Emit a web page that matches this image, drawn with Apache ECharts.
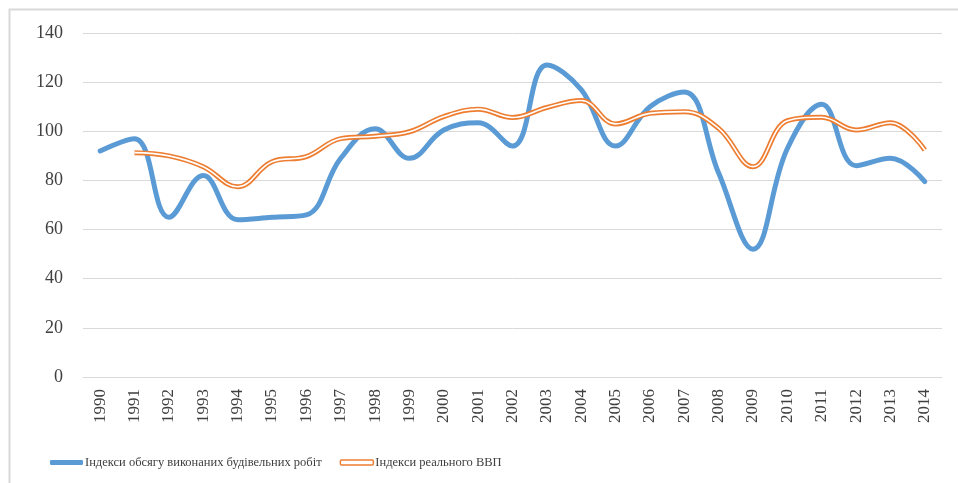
<!DOCTYPE html>
<html>
<head>
<meta charset="utf-8">
<script src="https://cdn.jsdelivr.net/npm/echarts@6/dist/echarts.min.js"></script>
<style>
  html, body { margin: 0; padding: 0; background: #fff; }
  #chart { width: 958px; height: 483px; }
</style>
</head>
<body>
<div id="chart"></div>
<script>
  // роки
  var years = ['1990', '1991', '1992', '1993', '1994', '1995', '1996', '1997', '1998', '1999',
    '2000', '2001', '2002', '2003', '2004', '2005', '2006', '2007', '2008', '2009',
    '2010', '2011', '2012', '2013', '2014'];
  // індекси обсягу будівельних робіт
  var buildData = [92, 97, 65, 82, 64, 65, 66, 89, 101, 89,
    100.5, 103.5, 94, 127, 117, 94, 110, 116, 83, 52,
    93, 111, 86, 89, 79.5];
  // індекси реального ВВП (з 1991)
  var gdpData = ['-', 91.3, 90, 85.6, 77.4, 87.6, 89.7, 97, 98, 99.8,
    106, 109, 105.6, 109.7, 112.5, 103, 107.3, 108, 101.2, 85.6,
    104.3, 105.7, 100.5, 103.5, 92.4];

  var nameBuild = 'Індекси обсягу виконаних будівельних робіт';
  var nameGdp = 'Індекси реального ВВП';
  var serif = '"Liberation Serif", "DejaVu Serif", serif';

  var myChart = echarts.init(document.getElementById('chart'));
  var option = {
    animation: false,
    graphic: [{
      type: 'rect',
      shape: { x: 9.5, y: 9.5, width: 980, height: 500 },
      style: { fill: 'none', stroke: '#d9d9d9', lineWidth: 2 },
      silent: true
    }],
    grid: { left: 83, right: 16, top: 33, bottom: 106 },
    legend: {
      left: 45,
      top: 451,
      itemWidth: 33,
      itemHeight: 5,
      itemGap: 18,
      textStyle: { fontFamily: serif, fontSize: 12.5, color: '#404040', padding: [0, 0, 0, -3] },
      data: [
        { name: nameBuild, icon: 'roundRect' },
        { name: nameGdp, icon: 'roundRect', itemStyle: { color: '#fff', borderColor: '#ED7D31', borderWidth: 1.5 } }
      ]
    },
    xAxis: {
      type: 'category',
      data: years,
      axisLine: { lineStyle: { color: '#d9d9d9' } },
      axisTick: { show: false },
      axisLabel: {
        rotate: 90,
        margin: 12,
        interval: 0,
        fontFamily: serif,
        fontSize: 17,
        color: '#404040'
      }
    },
    yAxis: {
      type: 'value',
      min: 0,
      max: 140,
      interval: 20,
      axisLine: { show: false },
      axisTick: { show: false },
      axisLabel: { margin: 20, fontFamily: serif, fontSize: 18, color: '#404040' },
      splitLine: { lineStyle: { color: '#d9d9d9', width: 1 } }
    },
    series: [
      {
        name: nameBuild,
        type: 'line',
        data: buildData,
        smooth: 0.4,
        symbol: 'none',
        lineStyle: { color: '#5B9BD5', width: 5, cap: 'round' },
        itemStyle: { color: '#5B9BD5' },
        z: 2
      },
      {
        name: nameGdp,
        type: 'line',
        data: gdpData,
        smooth: 0.4,
        symbol: 'none',
        lineStyle: { color: '#ED7D31', width: 5 },
        itemStyle: { color: '#ED7D31' },
        z: 3
      },
      {
        // біла середина подвійної лінії
        name: 'gdp-inner',
        type: 'line',
        data: gdpData,
        smooth: 0.4,
        symbol: 'none',
        lineStyle: { color: '#fff', width: 1.6 },
        z: 4,
        silent: true
      }
    ]
  };
  myChart.setOption(option);
</script>
</body>
</html>
